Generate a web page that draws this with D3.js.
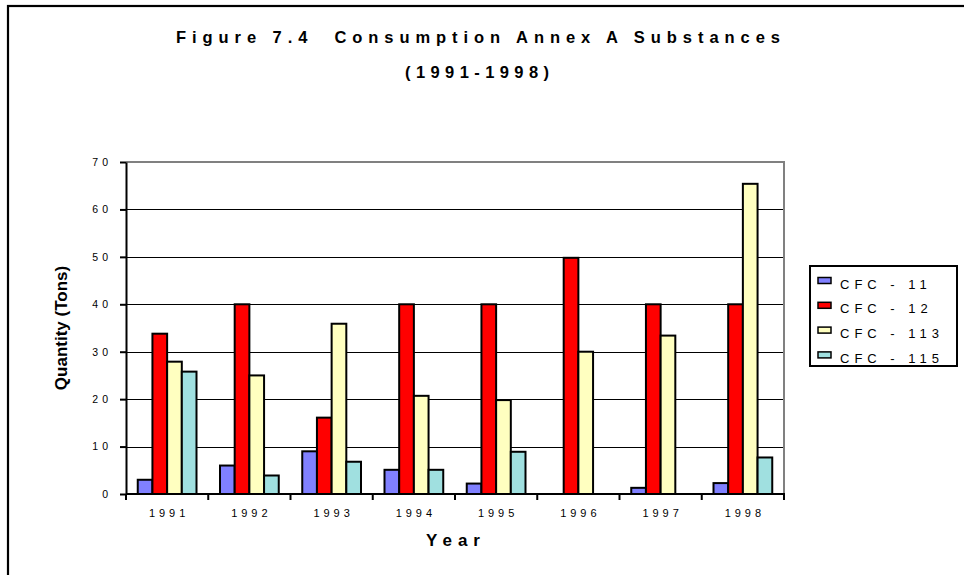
<!DOCTYPE html>
<html>
<head>
<meta charset="utf-8">
<script src="https://cdn.jsdelivr.net/npm/d3@7/dist/d3.min.js"></script>
<style>
  html, body { margin: 0; padding: 0; background: #fff; }
  svg { display: block; font-family: "Liberation Sans", Arial, sans-serif; }
</style>
</head>
<body>
<svg id="chart" width="964" height="575"></svg>
<script>
// Consumption of Annex A substances, tons per year
const years = ["1991", "1992", "1993", "1994", "1995", "1996", "1997", "1998"];
const seriesNames = ["CFC - 11", "CFC - 12", "CFC - 113", "CFC - 115"];
const cfc11  = [3, 6, 9, 5.1, 2.2, 0, 1.3, 2.3];
const cfc12  = [33.8, 40, 16.1, 40, 40, 49.8, 40, 40];
const cfc113 = [27.9, 25, 35.9, 20.7, 19.8, 30, 33.4, 65.4];
const cfc115 = [25.8, 3.9, 6.8, 5.1, 8.9, 0, 0, 7.7];
const yTicks = [0, 10, 20, 30, 40, 50, 60, 70];
const seriesColors = ["#8080FF", "#FF0000", "#FFFFC0", "#A0E0E0"];

const seriesValues = [cfc11, cfc12, cfc113, cfc115];
const rows = years.map((y, i) => ({
  year: y,
  values: seriesNames.map((s, j) => ({ key: s, value: seriesValues[j][i] }))
}));

const svg = d3.select("#chart");

// outer frame
svg.append("rect")
  .attr("x", 8).attr("y", 6)
  .attr("width", 1000).attr("height", 600)
  .attr("fill", "none").attr("stroke", "#000").attr("stroke-width", 2.2);

// plot area
const plot = { left: 126, right: 784, top: 162, bottom: 494 };

const x0 = d3.scaleBand().domain(years).range([plot.left, plot.right]).padding(0);
const x1 = d3.scaleBand().domain(seriesNames)
  .range([0, x0.bandwidth()]).paddingInner(0).paddingOuter(0.8);
const y = d3.scaleLinear().domain([0, 70]).range([plot.bottom, plot.top]);
const color = d3.scaleOrdinal().domain(seriesNames).range(seriesColors);

// gridlines
svg.append("g")
  .selectAll("line")
  .data(yTicks.filter(t => t > 0 && t < 70))
  .join("line")
  .attr("x1", plot.left).attr("x2", plot.right)
  .attr("y1", d => Math.round(y(d)) + 0.5).attr("y2", d => Math.round(y(d)) + 0.5)
  .attr("stroke", "#000").attr("stroke-width", 1);

// plot border (top and right, grey)
svg.append("path")
  .attr("d", `M${plot.left},${plot.top}H${plot.right}V${plot.bottom}`)
  .attr("fill", "none").attr("stroke", "#808080").attr("stroke-width", 2);

// bars
const groups = svg.append("g")
  .selectAll("g")
  .data(rows)
  .join("g")
  .attr("transform", d => `translate(${x0(d.year)},0)`);

groups.selectAll("rect")
  .data(d => d.values.filter(v => v.value > 0))
  .join("rect")
  .attr("x", d => x1(d.key))
  .attr("y", d => y(d.value))
  .attr("width", x1.bandwidth())
  .attr("height", d => y(0) - y(d.value))
  .attr("fill", d => color(d.key))
  .attr("stroke", "#000")
  .attr("stroke-width", 2);

// y axis
const yAxis = svg.append("g")
  .attr("transform", `translate(${plot.left},0)`)
  .call(d3.axisLeft(y).tickValues(yTicks).tickSize(6).tickPadding(12).tickSizeOuter(0));
yAxis.select(".domain").attr("stroke", "#000").attr("stroke-width", 2);
yAxis.selectAll(".tick line").attr("stroke", "#000").attr("stroke-width", 2);
yAxis.selectAll(".tick text")
  .attr("font-size", 10.5).attr("fill", "#000")
  .style("letter-spacing", "4px")
  .attr("dx", "4px")
  .style("font-family", "'Liberation Sans', Arial, sans-serif");

// x axis with ticks on category boundaries
const xAxisG = svg.append("g").attr("transform", `translate(0,${plot.bottom})`);
xAxisG.append("line")
  .attr("x1", plot.left).attr("x2", plot.right + 1)
  .attr("stroke", "#000").attr("stroke-width", 2);
const bounds = years.map(yv => x0(yv)).concat([plot.right]);
xAxisG.selectAll(".bt")
  .data(bounds)
  .join("line")
  .attr("class", "bt")
  .attr("x1", d => d).attr("x2", d => d)
  .attr("y1", 0).attr("y2", 6)
  .attr("stroke", "#000").attr("stroke-width", 2);
xAxisG.selectAll(".xl")
  .data(years)
  .join("text")
  .attr("class", "xl")
  .attr("x", d => x0(d) + x0.bandwidth() / 2 + 2)
  .attr("y", 23)
  .attr("text-anchor", "middle")
  .attr("font-size", 11)
  .style("letter-spacing", "4px")
  .text(d => d);

// axis titles
svg.append("text")
  .attr("x", 456).attr("y", 546)
  .attr("text-anchor", "middle")
  .attr("font-size", 17).attr("font-weight", "bold")
  .style("letter-spacing", "6px")
  .text("Year");

svg.append("text")
  .attr("transform", "translate(67,328) rotate(-90)")
  .attr("text-anchor", "middle")
  .attr("font-size", 17).attr("font-weight", "bold")
  .text("Quantity (Tons)");

// chart title
svg.append("text")
  .attr("x", 176).attr("y", 43)
  .attr("font-size", 16.5).attr("font-weight", "bold")
  .attr("textLength", 604).attr("lengthAdjust", "spacing")
  .style("white-space", "pre")
  .text("Figure 7.4  Consumption Annex A Substances");

svg.append("text")
  .attr("x", 405).attr("y", 78)
  .attr("font-size", 16.5).attr("font-weight", "bold")
  .attr("textLength", 144).attr("lengthAdjust", "spacing")
  .text("(1991-1998)");

// legend
const legend = svg.append("g");
legend.append("rect")
  .attr("x", 810).attr("y", 266)
  .attr("width", 147).attr("height", 100)
  .attr("fill", "#fff").attr("stroke", "#000").attr("stroke-width", 2);

const items = legend.selectAll(".item")
  .data(seriesNames)
  .join("g")
  .attr("class", "item")
  .attr("transform", (d, i) => `translate(0,${288.5 + i * 24.8})`);
items.append("rect")
  .attr("x", 818).attr("y", -11)
  .attr("width", 13).attr("height", 6)
  .attr("fill", d => color(d))
  .attr("stroke", "#000").attr("stroke-width", 1.5);
items.append("text")
  .attr("x", 840).attr("y", 0)
  .attr("font-size", 13)
  .style("letter-spacing", "5px")
  .text(d => d);
</script>
</body>
</html>
